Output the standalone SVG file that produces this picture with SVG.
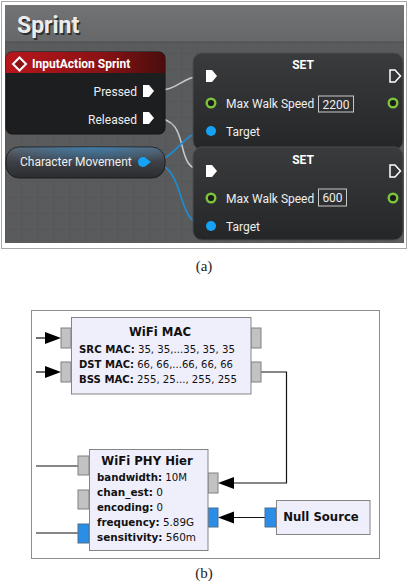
<svg xmlns="http://www.w3.org/2000/svg" width="408" height="582" viewBox="0 0 408 582">
<style>
.ue{font-family:Roboto,"Liberation Sans",sans-serif;fill:#eeeeee;font-size:12px}
.ueb{font-family:Roboto,"Liberation Sans",sans-serif;fill:#ffffff;font-size:12px;font-weight:bold}
.cap{font-family:"Liberation Serif",serif;font-size:15px;fill:#222;text-anchor:middle}
.blk{fill:#efeefb;stroke:#858585;stroke-width:1}
.port{fill:#c2c2c2;stroke:#808080;stroke-width:1}
.bport{fill:#2a8ee6;stroke:#4f6f8f;stroke-width:1}
.gt{font-family:"DejaVu Sans",Verdana,sans-serif;font-size:10.4px;fill:#111}
.gtt{font-family:"DejaVu Sans",Verdana,sans-serif;font-size:11.7px;font-weight:bold;fill:#111;text-anchor:middle}
.b{font-weight:bold}
.wire{fill:none;stroke:#111;stroke-width:1.2}
.exec{fill:none;stroke:#c9c9c9;stroke-width:1.6}
.obj{fill:none;stroke:#1a8fd6;stroke-width:1.6}
.gpin{fill:#1c1c1c;stroke:#7cc43c;stroke-width:2.4}
.bpin{fill:#16a2f5}
.execin{fill:#ffffff}
.execout{fill:none;stroke:#ffffff;stroke-width:1.5}
</style>
<defs>
<pattern id="grid" width="16" height="16" patternUnits="userSpaceOnUse" x="5" y="5">
<path d="M16 0H0V16" fill="none" stroke="#535456" stroke-width="1"/>
</pattern>
<linearGradient id="redh" x1="0" y1="0" x2="1" y2="0">
<stop offset="0" stop-color="#b8161c"/>
<stop offset="0.6" stop-color="#8a1214"/>
<stop offset="1" stop-color="#4a0d0e"/>
</linearGradient>
<linearGradient id="titlebar" x1="0" y1="0" x2="0" y2="1">
<stop offset="0" stop-color="#727375"/>
<stop offset="1" stop-color="#666769"/>
</linearGradient>
<linearGradient id="cmg" x1="0" y1="0" x2="0" y2="1">
<stop offset="0" stop-color="#5f646b"/>
<stop offset="0.5" stop-color="#3c3f44"/>
<stop offset="1" stop-color="#2a2c30"/>
</linearGradient>
<radialGradient id="cmblue" cx="0.55" cy="0" r="0.6">
<stop offset="0" stop-color="#2b8fd6" stop-opacity="0.55"/>
<stop offset="1" stop-color="#2b8fd6" stop-opacity="0"/>
</radialGradient>
<linearGradient id="setg" x1="0" y1="0" x2="0" y2="1">
<stop offset="0" stop-color="#3a3b3d"/>
<stop offset="1" stop-color="#252628"/>
</linearGradient>
<radialGradient id="green" cx="0.5" cy="0" r="0.5">
<stop offset="0" stop-color="#8fd64a" stop-opacity="0.85"/>
<stop offset="0.55" stop-color="#5f8f30" stop-opacity="0.35"/>
<stop offset="1" stop-color="#3a3b3d" stop-opacity="0"/>
</radialGradient>
<clipPath id="set1c"><rect x="193" y="53" width="210" height="97" rx="9"/></clipPath>
<clipPath id="set2c"><rect x="193" y="147" width="210" height="93" rx="9"/></clipPath>
</defs>

<!-- Panel (a) -->
<g id="panel-a">
<rect x="1.5" y="1.5" width="405" height="247" fill="#ffffff" stroke="#a8a8a8"/>
<rect x="5" y="5" width="399" height="238" fill="#5a5b5d"/>
<rect x="5" y="5" width="399" height="238" fill="url(#grid)"/>
<rect x="5" y="5" width="399" height="37" fill="url(#titlebar)"/>
<line x1="5" y1="42" x2="404" y2="42" stroke="#4e4f51"/>
<text x="18.5" y="34.5" font-family="Roboto,'Liberation Sans',sans-serif" font-size="23" font-weight="bold" fill="#2e2f31">Sprint</text>
<text x="17" y="33" font-family="Roboto,'Liberation Sans',sans-serif" font-size="23" font-weight="bold" fill="#ececec">Sprint</text>
</g>

<g id="connectors-a">
<path class="exec" d="M154,91 C180,91 180,76 205,76"/>
<path class="exec" d="M154,118 C195,118 170,171 205,171"/>
<path class="obj" d="M148,162 C178,162 180,131 207,131"/>
<path class="obj" d="M148,162 C190,162 172,226 207,226"/>
</g>

<g id="inputaction">
<rect x="6" y="52" width="159" height="82" rx="6" fill="#1d1e20" stroke="#141415"/>
<path d="M12,52 H159 A6,6 0 0 1 165,58 V73 H6 V58 A6,6 0 0 1 12,52 Z" fill="url(#redh)"/>
<polygon points="19.5,57.5 26,64 19.5,70.5 13,64" fill="#8c1116" stroke="#ffffff" stroke-width="2"/>
<text class="ueb" x="32" y="68">InputAction Sprint</text>
<text class="ue" x="137" y="96" text-anchor="end">Pressed</text>
<polygon class="execin" points="143,85 149,85 154,91 149,97 143,97"/>
<text class="ue" x="137" y="124" text-anchor="end">Released</text>
<polygon class="execin" points="143,112 149,112 154,118 149,124 143,124"/>
</g>

<g id="charmove">
<rect x="6" y="147" width="159" height="31" rx="13" fill="url(#cmg)" stroke="#1e1f21"/>
<rect x="6" y="147" width="159" height="31" rx="13" fill="url(#cmblue)"/>
<text class="ue" x="20" y="166" font-size="12.3" fill="#dde3ea">Character Movement</text>
<circle class="bpin" cx="143" cy="162" r="5"/>
<polygon class="bpin" points="147,159 151,162 147,165"/>
</g>

<g id="set1">
<rect x="193" y="53" width="210" height="97" rx="9" fill="url(#setg)" stroke="#4c4d4f"/>
<g clip-path="url(#set1c)">
<ellipse cx="303" cy="53" rx="120" ry="22" fill="url(#green)"/>
</g>
<text class="ueb" x="303" y="69" text-anchor="middle">SET</text>
<polygon class="execin" points="206,70 212,70 217,76 212,82 206,82"/>
<polygon class="execout" points="390,70 395,70 400.5,76 395,82 390,82"/>
<circle class="gpin" cx="211" cy="103" r="4.3"/>
<text class="ue" x="226" y="108">Max Walk Speed</text>
<rect x="318.5" y="96" width="35" height="16" fill="none" stroke="#c8c8c8" stroke-width="1"/>
<text class="ue" x="336" y="108.5" text-anchor="middle" fill="#dddddd">2200</text>
<circle class="gpin" cx="393" cy="103" r="4.3"/>
<circle class="bpin" cx="211" cy="131" r="5"/>
<text class="ue" x="226" y="136">Target</text>
</g>

<g id="set2">
<rect x="193" y="147" width="210" height="93" rx="9" fill="url(#setg)" stroke="#4c4d4f"/>
<g clip-path="url(#set2c)">
<ellipse cx="303" cy="147" rx="120" ry="22" fill="url(#green)"/>
</g>
<text class="ueb" x="303" y="164" text-anchor="middle">SET</text>
<polygon class="execin" points="206,165 212,165 217,171 212,177 206,177"/>
<polygon class="execout" points="390,165 395,165 400.5,171 395,177 390,177"/>
<circle class="gpin" cx="211" cy="198" r="4.3"/>
<text class="ue" x="226" y="203">Max Walk Speed</text>
<rect x="318.5" y="189" width="28" height="17" fill="none" stroke="#c8c8c8" stroke-width="1"/>
<text class="ue" x="332.5" y="202" text-anchor="middle" fill="#dddddd">600</text>
<circle class="gpin" cx="393" cy="198" r="4.3"/>
<circle class="bpin" cx="211" cy="226" r="5"/>
<text class="ue" x="226" y="231">Target</text>
</g>

<text class="cap" x="204" y="271">(a)</text>

<!-- Panel (b) -->
<rect x="31.5" y="310.5" width="348" height="248" fill="#ffffff" stroke="#8e8e8e"/>

<g id="connectors-b">
<line class="wire" x1="36" y1="338" x2="47" y2="338"/>
<polygon points="45,332 61,338 45,344" fill="#000"/>
<line class="wire" x1="36" y1="372" x2="47" y2="372"/>
<polygon points="45,366 61,372 45,378" fill="#000"/>
<polyline class="wire" points="261,372 286.5,372 286.5,483 232,483"/>
<polygon points="234,477 218,483 234,489" fill="#000"/>
<line class="wire" x1="265" y1="517.5" x2="232" y2="517.5"/>
<polygon points="234,511.5 218,517.5 234,523.5" fill="#000"/>
<line class="wire" x1="36" y1="466" x2="78" y2="466"/>
<line class="wire" x1="36" y1="533" x2="78" y2="533"/>
</g>

<g id="wifi-mac">
<rect class="port" x="61" y="328" width="10" height="20"/>
<rect class="port" x="61" y="362" width="10" height="20"/>
<rect class="port" x="251" y="328" width="10" height="20"/>
<rect class="port" x="251" y="362" width="10" height="20"/>
<rect class="blk" x="71.5" y="317.5" width="179.5" height="76.5"/>
<text class="gtt" x="160" y="336">WiFi MAC</text>
<text class="gt" x="79" y="353" textLength="156" lengthAdjust="spacingAndGlyphs"><tspan class="b">SRC MAC:</tspan> 35, 35,...35, 35, 35</text>
<text class="gt" x="79" y="368" textLength="154" lengthAdjust="spacingAndGlyphs"><tspan class="b">DST MAC:</tspan> 66, 66,...66, 66, 66</text>
<text class="gt" x="79" y="383" textLength="158" lengthAdjust="spacingAndGlyphs"><tspan class="b">BSS MAC:</tspan> 255, 25..., 255, 255</text>
</g>

<g id="wifi-phy">
<rect class="port" x="78" y="456" width="11" height="19"/>
<rect class="port" x="78" y="490" width="11" height="19"/>
<rect class="bport" x="78" y="524" width="11" height="19"/>
<rect class="port" x="208" y="473" width="10" height="20"/>
<rect class="bport" x="208" y="508" width="10" height="19"/>
<rect class="blk" x="89.5" y="449.5" width="118.5" height="101"/>
<text class="gtt" x="147" y="465">WiFi PHY Hier</text>
<text class="gt" x="97" y="481" textLength="90" lengthAdjust="spacingAndGlyphs"><tspan class="b">bandwidth:</tspan> 10M</text>
<text class="gt" x="97" y="496" textLength="66" lengthAdjust="spacingAndGlyphs"><tspan class="b">chan_est:</tspan> 0</text>
<text class="gt" x="97" y="511" textLength="66" lengthAdjust="spacingAndGlyphs"><tspan class="b">encoding:</tspan> 0</text>
<text class="gt" x="97" y="526" textLength="97" lengthAdjust="spacingAndGlyphs"><tspan class="b">frequency:</tspan> 5.89G</text>
<text class="gt" x="97" y="541" textLength="99" lengthAdjust="spacingAndGlyphs"><tspan class="b">sensitivity:</tspan> 560m</text>
</g>

<g id="null-source">
<rect class="bport" x="265" y="508" width="11" height="19"/>
<rect class="blk" x="276.5" y="500.5" width="93.5" height="34"/>
<text class="gtt" x="321" y="521">Null Source</text>
</g>

<text class="cap" x="204" y="578">(b)</text>
</svg>
